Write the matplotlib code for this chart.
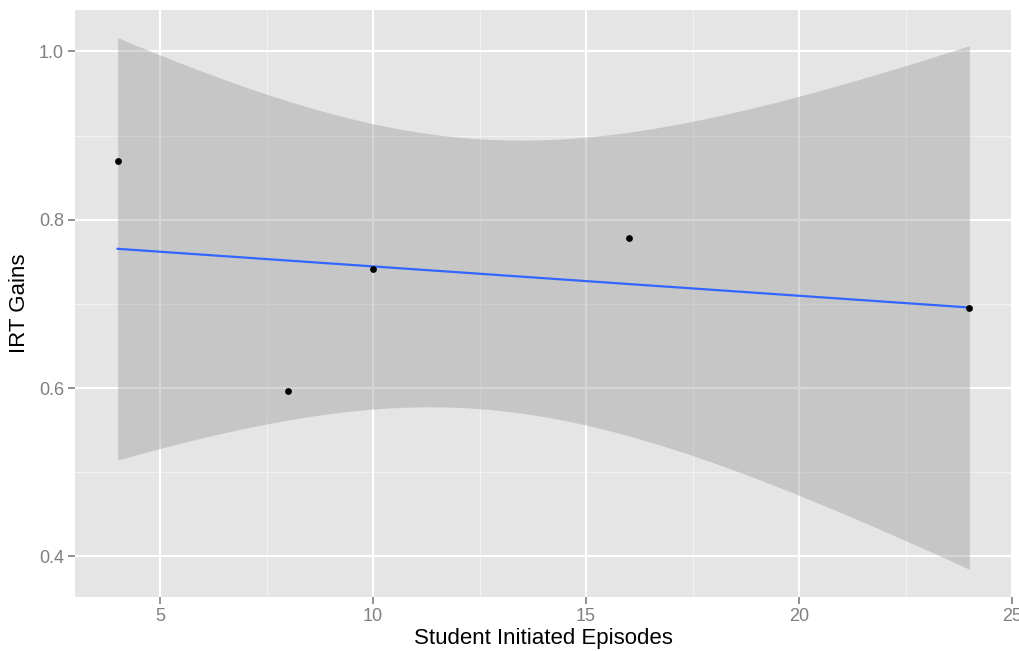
import numpy as np
import matplotlib
matplotlib.use("Agg")
import matplotlib.pyplot as plt

# Observations
episodes = np.array([4, 8, 10, 16, 24], dtype=float)
irt_gains = np.array([0.870, 0.596, 0.742, 0.778, 0.695])

x_ticks = [5, 10, 15, 20, 25]
y_ticks = [0.4, 0.6, 0.8, 1.0]
x_label = "Student Initiated Episodes"
y_label = "IRT Gains"

# Ordinary least squares fit with 95% confidence band
n = len(episodes)
x_mean = episodes.mean()
y_mean = irt_gains.mean()
sxx = np.sum((episodes - x_mean) ** 2)
slope = np.sum((episodes - x_mean) * (irt_gains - y_mean)) / sxx
intercept = y_mean - slope * x_mean
resid = irt_gains - (intercept + slope * episodes)
s = np.sqrt(np.sum(resid ** 2) / (n - 2))
t_crit = 3.182446  # t quantile, 0.975, df = 3

xs = np.linspace(episodes.min(), episodes.max(), 200)
fit = intercept + slope * xs
se = s * np.sqrt(1.0 / n + (xs - x_mean) ** 2 / sxx)
lower = fit - t_crit * se
upper = fit + t_crit * se

plt.rcParams["font.family"] = ["Liberation Sans", "DejaVu Sans"]

fig = plt.figure(figsize=(10.19, 6.51), dpi=100)
ax = fig.add_axes([75 / 1019, 1 - 597 / 651, (1012 - 75) / 1019, (597 - 10) / 651])
ax.set_facecolor("#e5e5e5")

ax.set_xlim(3, 25)
ax.set_ylim(0.3517, 1.0493)

# Grid: minor then major lines
minor_x = [7.5, 12.5, 17.5, 22.5]
minor_y = [0.5, 0.7, 0.9]
for v in minor_x:
    ax.axvline(v, color="#f2f2f2", lw=0.8, zorder=0)
for v in minor_y:
    ax.axhline(v, color="#f2f2f2", lw=0.8, zorder=0)
for v in x_ticks:
    ax.axvline(v, color="white", lw=1.5, zorder=0.5)
for v in y_ticks:
    ax.axhline(v, color="white", lw=1.5, zorder=0.5)

ax.fill_between(xs, lower, upper, color="#999999", alpha=0.4, lw=0, zorder=1)
ax.plot(xs, fit, color="#3366ff", lw=1.6, zorder=2)
ax.scatter(episodes, irt_gains, s=24, color="black", marker="o", zorder=3, lw=0)

for sp in ax.spines.values():
    sp.set_visible(False)

ax.set_xticks(x_ticks)
ax.set_yticks(y_ticks)
ax.set_xticklabels([str(v) for v in x_ticks])
ax.set_yticklabels([f"{v:.1f}" for v in y_ticks])
ax.tick_params(axis="both", colors="#7f7f7f", labelsize=13, length=5, width=1.2, pad=3)
ax.tick_params(axis="both", labelcolor="#7f7f7f")

ax.set_xlabel(x_label, fontsize=16, color="black", labelpad=2)
ax.set_ylabel(y_label, fontsize=16, color="black", labelpad=6)

fig.savefig("out.png", dpi=100, facecolor="white")
